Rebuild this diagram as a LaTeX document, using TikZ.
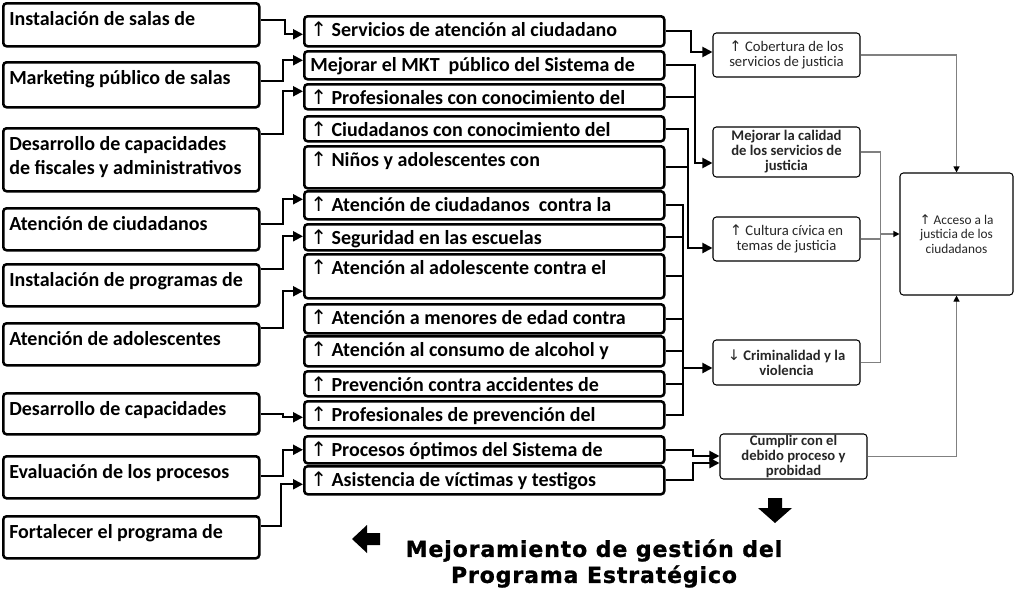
\documentclass[tikz,border=0pt]{standalone}
\usepackage{fontspec}
\setmainfont{Carlito}
\newfontfamily\arrowfont{DejaVu Sans}
\newfontfamily\titlefont{DejaVu Sans}[BoldFeatures={FakeBold=1.2,LetterSpace=4}]
\usetikzlibrary{arrows.meta,calc}
\newcommand\upa{{\arrowfont\mdseries ↑}}
\newcommand\dna{{\arrowfont\mdseries ↓}}
\newcommand\lt[2]{\parbox[c][#1][t]{183pt}{\raggedright\rule{0pt}{16.5pt}#2}}
\newcommand\mt[2]{\parbox[c][#1][t]{261pt}{\raggedright\rule{0pt}{15pt}#2}}
\tikzset{
  lbox/.style={draw, line width=1.9pt, rounded corners=2.5pt, inner xsep=4.5pt, inner ysep=0pt,
    anchor=north west, minimum width=192pt, font=\bfseries\fontsize{15}{18}\selectfont},
  mbox/.style={draw, line width=1.9pt, rounded corners=2.5pt, inner xsep=4.5pt, inner ysep=0pt,
    anchor=north west, minimum width=270pt, font=\bfseries\fontsize{15}{18}\selectfont},
  rbox/.style={draw, line width=0.8pt, rounded corners=2.5pt, inner sep=0pt, align=center,
    minimum width=110.25pt, text=black!85, font=\fontsize{11}{11.25}\selectfont},
  rboxb/.style={rbox, font=\bfseries\fontsize{11}{11.25}\selectfont},
  conn/.style={line width=1.5pt, -{Triangle[length=7.5pt,width=7.5pt]}},
  bline/.style={line width=1.5pt},
  gline/.style={draw=black!50, line width=0.8pt},
  garr/.style={gline, -{Triangle[length=4.5pt,width=4.5pt,color=black]}},
  blockarrow/.style={fill=black}
}
\begin{document}
\begin{tikzpicture}[x=0.75pt,y=-0.75pt]
\fill[white] (0,0) rectangle (1016,589);
\useasboundingbox (0,0) rectangle (1016,589);

% left column
\node[lbox] (L1) at (2,2)   {\lt{32.25pt}{Instalación de salas de}};
\node[lbox] (L2) at (2,61)  {\lt{33.75pt}{Marketing público de salas}};
\node[lbox] (L3) at (2,127) {\lt{47.25pt}{Desarrollo de capacidades\\de fiscales y administrativos}};
\node[lbox] (L4) at (2,207) {\lt{31.5pt}{Atención de ciudadanos}};
\node[lbox] (L5) at (2,263) {\lt{31.5pt}{Instalación de programas de}};
\node[lbox] (L6) at (2,322) {\lt{31.5pt}{Atención de adolescentes}};
\node[lbox] (L7) at (2,392) {\lt{30.75pt}{Desarrollo de capacidades}};
\node[lbox] (L8) at (2,455) {\lt{31.5pt}{Evaluación de los procesos}};
\node[lbox] (L9) at (2,515) {\lt{31.5pt}{Fortalecer el programa de}};

% middle column
\node[mbox] (M1)  at (303,15)  {\mt{22.5pt}{\upa\ Servicios de atención al ciudadano}};
\node[mbox] (M2)  at (303,50)  {\mt{21pt}{Mejorar el MKT~ público del Sistema de}};
\node[mbox] (M3)  at (303,83)  {\mt{18.75pt}{\upa\ Profesionales con conocimiento del}};
\node[mbox] (M4)  at (303,115) {\mt{18.75pt}{\upa\ Ciudadanos con conocimiento del}};
\node[mbox] (M5)  at (303,145) {\mt{31.5pt}{\upa\ Niños y adolescentes con}};
\node[mbox] (M6)  at (303,190) {\mt{21pt}{\upa\ Atención de ciudadanos~ contra la}};
\node[mbox] (M7)  at (303,223) {\mt{19.5pt}{\upa\ Seguridad en las escuelas}};
\node[mbox] (M8)  at (303,253) {\mt{33pt}{\upa\ Atención al adolescente contra el}};
\node[mbox] (M9)  at (303,303) {\mt{21.75pt}{\upa\ Atención a menores de edad contra}};
\node[mbox] (M10) at (303,335) {\mt{22.5pt}{\upa\ Atención al consumo de alcohol y}};
\node[mbox] (M11) at (303,370) {\mt{18.75pt}{\upa\ Prevención contra accidentes de}};
\node[mbox] (M12) at (303,400) {\mt{20.25pt}{\upa\ Profesionales de prevención del}};
\node[mbox] (M13) at (303,435) {\mt{20.25pt}{\upa\ Procesos óptimos del Sistema de}};
\node[mbox] (M14) at (303,465) {\mt{21pt}{\upa\ Asistencia de víctimas y testigos}};

% right column
\node[rbox, minimum height=33pt]     (R1) at (786.5,55)    {\upa\ Cobertura de los\\servicios de justicia};
\node[rboxb, minimum height=37.5pt]  (R2) at (786.5,152)   {Mejorar la calidad\\de los servicios de\\justicia};
\node[rbox, minimum height=33pt]     (R3) at (786.5,239)   {\upa\ Cultura cívica en\\temas de justicia};
\node[rboxb, minimum height=33.75pt] (R4) at (786.5,362.5) {\dna\ Criminalidad y la\\violencia};
\node[rboxb, minimum height=33.75pt] (R5) at (793.5,456.5) {Cumplir con el\\debido proceso y\\probidad};
\node[rbox, minimum width=84.75pt, minimum height=91.5pt, font=\fontsize{10}{11}\selectfont] (F) at (956.5,234) {\upa\ Acceso a la\\justicia de los\\ciudadanos};

% left -> middle
\draw[conn] ($(L1.east)+(0,-4.5)$)  -- ++(24,0) |- ($(M1.west)+(0,3)$);
\draw[conn] ($(L2.east)+(0,-3.5)$)  -- ++(22,0) |- ($(M2.west)+(0,-5)$);
\draw[conn] ($(L3.east)+(0,-25.5)$) -- ++(22,0) |- ($(M3.west)+(0,-5.5)$);
\draw[conn] ($(L4.east)+(0,-5)$)    -- ++(22,0) |- ($(M6.west)+(0,-6)$);
\draw[conn] ($(L5.east)+(0,-16)$)   -- ++(22,0) |- ($(M7.west)+(0,-1)$);
\draw[conn] ($(L6.east)+(0,-16)$)   -- ++(22,0) |- ($(M8.west)+(0,15)$);
\draw[conn] (L7.east)               -- ++(22,0) |- ($(M12.west)+(0,2.5)$);
\draw[conn] ($(L8.east)+(0,-1)$)    -- ++(22,0) |- (M13.west);
\draw[conn] ($(L9.east)+(0,-11)$)   -- ++(20,0) |- ($(M14.west)+(0,4)$);

% middle -> right
\draw[conn] (M1.east) -- ++(25,0) |- ($(R1.west)+(0,-3)$);
\draw[conn] (M2.east) -- ++(29,0) coordinate (b2) |- ($(R2.west)+(0,11)$);
\draw[bline] (M3.east) -- (M3.east -| b2);
\draw[conn] (M4.east) -- ++(22,0) coordinate (b3) |- ($(R3.west)+(0,9)$);
\draw[bline] (M5.east) -- (M5.east -| b3);
\draw[bline] (M6.east) -- ++(17,0) coordinate (b4) -- (b4 |- M12.east) -- (M12.east);
\foreach \m in {M7,M8,M9,M10,M11} \draw[bline] (\m.east) -- (\m.east -| b4);
\coordinate (r4in) at ($(R4.west)+(0,5.5)$);
\draw[conn] (b4 |- r4in) -- (r4in);
\draw[conn] (M13.east) -- ++(27,0) |- ($(R5.west)+(0,-0.5)$);
\draw[conn] (M14.east) -- ++(27,0) |- ($(R5.west)+(0,6.5)$);

% right -> final
\draw[garr] (R1.east) -| (F.north);
\draw[gline] (R2.east) -- ++(20,0) coordinate (gb) -- (gb |- R4.east) -- (R4.east);
\draw[gline] (R3.east) -- (R3.east -| gb);
\draw[garr] (gb |- F.west) -- (F.west);
\draw[garr] (R5.east) -| (F.south);

% block arrows
\fill[blockarrow] (768,498) -- (782,498) -- (782,508) -- (792,508) -- (775,523) -- (758,508) -- (768,508) -- cycle;
\fill[blockarrow] (352,539) -- (367,525) -- (367,533) -- (380,533) -- (380,545) -- (367,545) -- (367,553) -- cycle;

% title
\node[font=\titlefont\bfseries\fontsize{16.5}{19.5}\selectfont, align=center, inner sep=0pt, anchor=north] (title) at (594,539)
  {Mejoramiento de gestión del\\Programa Estratégico};
\end{tikzpicture}
\end{document}
